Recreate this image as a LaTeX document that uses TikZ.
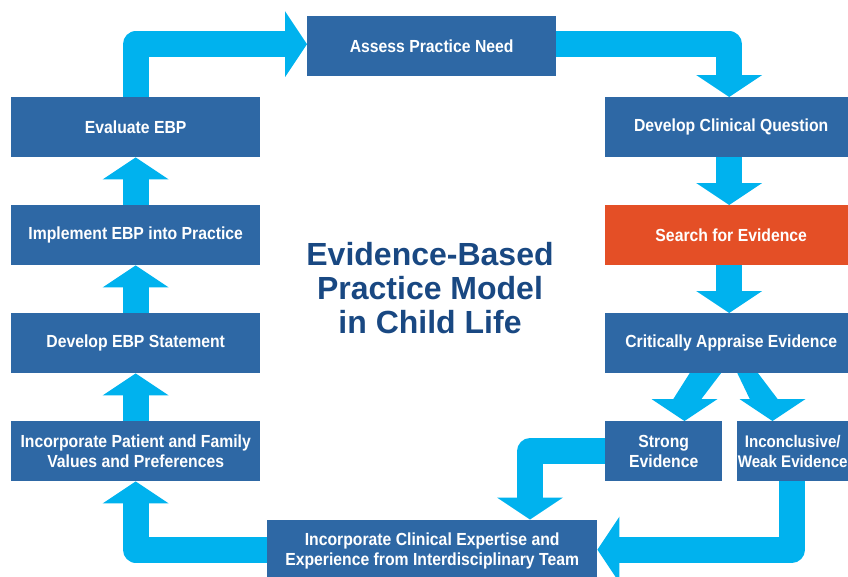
\documentclass[tikz,border=0pt]{standalone}
\usepackage{fontspec}
\setmainfont[FakeStretch=0.9]{Liberation Sans}
\newfontfamily\titlefont{Liberation Sans}
\usetikzlibrary{calc}
\definecolor{boxblue}{RGB}{46,104,165}
\definecolor{boxorange}{RGB}{228,79,38}
\definecolor{arrowcyan}{RGB}{0,178,238}
\definecolor{titleblue}{RGB}{25,72,130}
\pgfdeclarelayer{bg}
\pgfsetlayers{bg,main}
\newcommand\arrhead[2]{\fill[arrowcyan, shift={(#1)}, rotate=#2] (0,-33) -- (22,0) -- (0,33) -- cycle;}
\tikzset{
  box/.style={rectangle, fill=boxblue, text=white, minimum height=60pt, inner sep=0pt,
    anchor=north west, align=center, font=\bfseries\fontsize{17.5}{20}\selectfont},
  shaft/.style={draw=arrowcyan, line width=25.6pt, line join=round},
  titletext/.style={anchor=base, text=titleblue, inner sep=0pt,
    font=\titlefont\bfseries\fontsize{32}{34}\selectfont}
}
\begin{document}
\begin{tikzpicture}[x=1pt, y=-1pt]
\useasboundingbox (0,0) rectangle (848,576);
\clip (0,0) rectangle (848,576);

% boxes
\node[box, minimum width=249pt] (assess) at (307,16) {Assess Practice Need};
\node[box, minimum width=249pt] (evaluate) at (11,97) {Evaluate EBP};
\node[box, minimum width=249pt] (implement) at (11,205) {Implement EBP into Practice};
\node[box, minimum width=249pt] (ebpstmt) at (11,313) {Develop EBP Statement};
\node[box, minimum width=249pt] (patient) at (11,421) {Incorporate Patient and Family\\Values and Preferences};
\node[box, minimum width=252pt] (question) at (605,97) {Develop Clinical Question};
\node[box, fill=boxorange, minimum width=252pt] (search) at (605,205) {Search for Evidence};
\node[box, minimum width=252pt] (appraise) at (605,313) {Critically Appraise Evidence};
\node[box, minimum width=117pt] (strong) at (605,421) {Strong\\Evidence};
\node[box, minimum width=111pt, font=\bfseries\fontsize{16.8}{20}\selectfont] (weak) at (737,421) {Inconclusive/\\Weak Evidence};
\node[box, minimum width=330pt, minimum height=62pt] (clinical) at (267,520) {Incorporate Clinical Expertise and\\Experience from Interdisciplinary Team};

% title
\node[titletext] (title1) at (430,265) {Evidence-Based};
\node[titletext] (title2) at (430,299) {Practice Model};
\node[titletext] (title3) at (430,333) {in Child Life};

\begin{pgfonlayer}{bg}
% evaluate -> assess
\draw[shaft] (evaluate.north) |- ($(assess.west)+(-22,-2)$);
\arrhead{$(assess.west)+(-22,-2)$}{0}
% assess -> question
\draw[shaft] ($(assess.east)+(0,-2)$) -| ($(question.north)+(-2,-22)$);
\arrhead{$(question.north)+(-2,-22)$}{-90}
% question -> search
\draw[shaft] ($(question.south)+(-2,0)$) -- ($(search.north)+(-2,-22)$);
\arrhead{$(search.north)+(-2,-22)$}{-90}
% search -> appraise
\draw[shaft] ($(search.south)+(-2,0)$) -- ($(appraise.north)+(-2,-22)$);
\arrhead{$(appraise.north)+(-2,-22)$}{-90}
% appraise -> strong / weak
\fill[arrowcyan] (698,360) -- (731,360) -- (701,399.5) -- (673,399.5) -- cycle;
\arrhead{684.5,399}{-90}
\fill[arrowcyan] (731,360) -- (748,360) -- (778,399.5) -- (750,399.5) -- cycle;
\arrhead{772.5,399}{-90}
% strong -> clinical
\draw[shaft] (strong.west) -| (530,497.5);
\arrhead{530,497.5}{-90}
% weak -> clinical
\draw[shaft] (792,481) |- ($(clinical.east)+(22,-1.5)$);
\arrhead{$(clinical.east)+(22,-1.5)$}{180}
% clinical -> patient
\draw[shaft] ($(clinical.west)+(0,-1.5)$) -| ($(patient.south)+(0,22)$);
\arrhead{$(patient.south)+(0,22)$}{90}
% patient -> ebpstmt
\draw[shaft] (patient.north) -- ($(ebpstmt.south)+(0,22)$);
\arrhead{$(ebpstmt.south)+(0,22)$}{90}
% ebpstmt -> implement
\draw[shaft] (ebpstmt.north) -- ($(implement.south)+(0,22)$);
\arrhead{$(implement.south)+(0,22)$}{90}
% implement -> evaluate
\draw[shaft] (implement.north) -- ($(evaluate.south)+(0,22)$);
\arrhead{$(evaluate.south)+(0,22)$}{90}
\end{pgfonlayer}
\end{tikzpicture}
\end{document}
